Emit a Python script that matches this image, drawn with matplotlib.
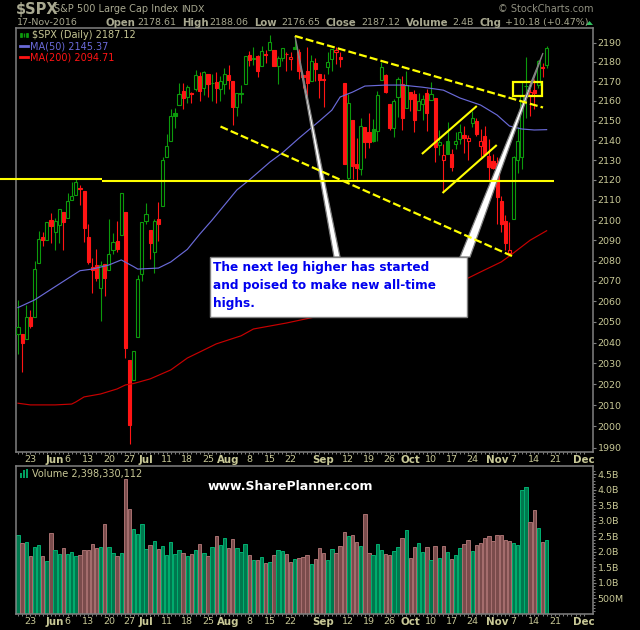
# -*- coding: utf-8 -*-
# SPX daily candles with MAs and volume, plus the hand drawn chart notes
import matplotlib
matplotlib.use('Agg')
import matplotlib.pyplot as plt
from matplotlib.patches import Polygon, Rectangle
from matplotlib.ticker import FixedLocator, NullFormatter, NullLocator
import numpy as np
import pandas as pd

# Trading days shown, May 18 to Nov 17 2016
holidays = ['2016-05-30', '2016-07-04', '2016-09-05', '2016-11-24']
axis_days = pd.bdate_range('2016-05-18', '2016-12-01').difference(pd.to_datetime(holidays))

opens = [2044.38, 2044.21, 2041.88, 2052.23, 2052.6, 2078.93, 2091.44, 2090.06, 2100.13,
         2093.94, 2097.71, 2104.07, 2100.83, 2110.18, 2112.71, 2115.65, 2114.5, 2091.75, 2076.65, 2077.6,
         2066.36, 2078.2, 2075.58, 2085.19, 2089.75, 2092.8, 2103.81, 2031.45, 2022.03, 2042.69, 2073.17,
         2099.34, 2095.05, 2084.43, 2100.42, 2106.97, 2131.72, 2139.5, 2153.81, 2157.88, 2165.13,
         2162.04, 2163.79, 2166.1, 2172.91, 2166.47, 2173.71, 2168.97, 2169.81, 2166.05, 2168.83,
         2173.15, 2169.94, 2156.81, 2163.51, 2168.79, 2183.76, 2182.24, 2182.81, 2177.97, 2183.74, 2186.08,
         2186.24, 2177.84, 2181.9, 2184.24, 2181.58, 2187.81, 2185.09, 2173.29, 2175.1, 2170.19, 2179.45, 2173.57,
         2171.33, 2177.49, 2181.61, 2185.17, 2182.76, 2169.08, 2120.86, 2150.47, 2127.86, 2125.36, 2146.48,
         2143.99, 2145.94, 2144.58, 2170.94, 2173.29, 2158.54, 2146.04, 2161.85, 2168.9, 2156.51,
         2164.33, 2163.37, 2155.15, 2158.22, 2164.19, 2160.39, 2161.35, 2137.67, 2130.26, 2139.68,
         2132.95, 2138.31, 2140.81, 2142.51, 2139.43, 2148.5, 2149.72, 2136.97, 2142.2, 2132.23, 2129.78,
         2128.68, 2109.43, 2099.4, 2083.79, 2100.59, 2129.92, 2131.56, 2167.49, 2162.71, 2165.64, 2168.29, 2177.53, 2178.61]
highs = [2060.61, 2044.21, 2058.35, 2055.91, 2079.67, 2094.73, 2094.3, 2099.06, 2103.48,
         2100.97, 2105.26, 2104.07, 2113.36, 2119.22, 2120.55, 2117.64, 2114.5, 2098.12, 2081.3, 2085.65,
         2079.62, 2078.2, 2100.66, 2093.66, 2099.71, 2113.32, 2103.81, 2031.45, 2036.09, 2073.13, 2098.94,
         2108.71, 2095.05, 2100.72, 2109.08, 2131.71, 2143.16, 2155.79, 2156.45, 2168.99, 2169.05,
         2168.35, 2164.63, 2175.63, 2174.56, 2175.11, 2173.71, 2173.54, 2174.98, 2172.85, 2177.09,
         2178.29, 2170.2, 2163.79, 2168.19, 2182.87, 2185.44, 2187.66, 2183.41, 2188.45, 2186.28, 2193.81,
         2186.24, 2183.08, 2187.03, 2185.0, 2185.15, 2193.42, 2186.66, 2173.29, 2187.94, 2183.48, 2182.27, 2173.57,
         2173.56, 2184.87, 2186.57, 2187.87, 2184.94, 2169.08, 2163.3, 2150.47, 2141.33, 2151.31, 2146.48,
         2153.61, 2150.8, 2165.11, 2179.99, 2173.75, 2158.54, 2161.13, 2172.4, 2172.67, 2175.3,
         2164.33, 2165.46, 2163.95, 2162.93, 2165.86, 2169.6, 2161.56, 2145.36, 2138.19, 2149.19,
         2135.7, 2144.38, 2148.44, 2147.18, 2142.63, 2154.79, 2151.44, 2145.73, 2147.13, 2140.72, 2133.25,
         2131.45, 2111.76, 2102.56, 2099.07, 2132.0, 2146.87, 2170.1, 2182.3, 2165.92, 2171.36, 2180.84, 2179.22, 2188.06]
lows = [2034.49, 2025.91, 2041.88, 2047.03, 2052.6, 2078.93, 2087.08, 2090.06, 2088.66,
        2085.1, 2088.59, 2085.36, 2100.83, 2110.18, 2112.71, 2107.73, 2089.2, 2078.46, 2064.1, 2069.8,
        2050.37, 2062.84, 2075.58, 2083.02, 2084.36, 2092.8, 2032.57, 1991.68, 2022.03, 2042.69, 2070.0,
        2097.9, 2080.86, 2074.02, 2089.39, 2106.97, 2131.72, 2139.5, 2146.21, 2157.88, 2155.79,
        2159.07, 2159.01, 2164.89, 2159.75, 2163.24, 2161.95, 2160.18, 2159.07, 2159.74, 2163.49,
        2166.21, 2147.58, 2152.14, 2159.07, 2168.79, 2177.85, 2178.61, 2172.0, 2177.97, 2179.42, 2186.08,
        2178.14, 2168.5, 2180.46, 2175.13, 2175.96, 2186.8, 2171.25, 2166.45, 2160.39, 2170.19, 2170.41, 2161.35,
        2157.09, 2173.59, 2175.1, 2179.07, 2177.49, 2127.81, 2119.12, 2120.27, 2119.9, 2122.36, 2131.2,
        2135.91, 2139.17, 2139.57, 2170.94, 2163.97, 2145.04, 2141.55, 2151.79, 2145.2, 2156.51,
        2154.77, 2144.01, 2155.15, 2150.28, 2144.85, 2160.39, 2128.84, 2132.77, 2114.72, 2132.98,
        2124.43, 2135.49, 2138.15, 2133.44, 2130.09, 2146.91, 2141.93, 2131.59, 2132.52, 2119.36, 2125.53,
        2097.85, 2094.0, 2085.23, 2083.79, 2100.59, 2123.56, 2125.35, 2151.17, 2152.49, 2156.08, 2166.38, 2172.2, 2176.65]
closes = [2047.63, 2040.04, 2052.32, 2048.04, 2076.06, 2090.54, 2090.1, 2099.06, 2096.96,
          2099.33, 2105.26, 2099.13, 2109.41, 2112.13, 2119.12, 2115.48, 2096.07, 2079.06, 2075.32, 2071.5,
          2077.99, 2071.22, 2083.25, 2088.9, 2085.45, 2113.32, 2037.41, 2000.54, 2036.09, 2070.77, 2098.86,
          2102.95, 2088.55, 2099.73, 2097.9, 2129.9, 2137.16, 2152.14, 2152.43, 2163.75, 2161.74,
          2166.89, 2163.78, 2173.02, 2165.17, 2175.03, 2168.48, 2169.18, 2166.58, 2170.06, 2173.6,
          2170.84, 2157.03, 2163.79, 2164.25, 2182.87, 2180.89, 2181.74, 2175.49, 2185.79, 2184.05, 2190.15,
          2178.15, 2182.22, 2187.02, 2183.87, 2182.64, 2186.9, 2175.44, 2172.47, 2169.04, 2180.38, 2176.12, 2170.95,
          2170.86, 2179.98, 2186.48, 2186.16, 2181.3, 2127.81, 2159.04, 2127.02, 2125.77, 2147.26, 2139.16,
          2139.12, 2139.76, 2163.12, 2177.18, 2164.69, 2146.1, 2159.93, 2171.37, 2151.13, 2168.27,
          2161.2, 2150.49, 2159.73, 2160.77, 2153.74, 2163.66, 2136.73, 2139.18, 2132.55, 2132.98,
          2126.5, 2139.6, 2144.29, 2141.34, 2141.16, 2151.33, 2143.16, 2139.43, 2133.04, 2126.41, 2126.15,
          2111.72, 2097.94, 2088.66, 2085.18, 2131.52, 2139.56, 2163.26, 2167.48, 2164.45, 2164.2, 2180.39, 2176.94, 2187.12]
prev_close = 2047.21

# Volume in billions
volumes = [2.54, 2.28, 2.31, 1.86, 2.15, 2.21, 1.86, 1.70, 2.60,
           2.05, 1.92, 2.12, 1.92, 1.99, 1.86, 1.89, 2.05, 2.05, 2.25, 2.12,
           2.15, 2.89, 2.15, 1.96, 1.86, 1.96, 4.34, 3.38, 2.73, 2.57, 2.89,
           2.09, 2.21, 2.34, 2.09, 2.18, 1.89, 2.31, 1.92, 2.05, 1.96,
           1.86, 1.92, 2.05, 2.25, 1.96, 1.86, 2.15, 2.51, 2.21, 2.44,
           2.12, 2.41, 2.12, 1.99, 2.25, 1.89, 1.73, 1.73, 1.83, 1.63, 1.67,
           1.89, 2.05, 2.02, 1.92, 1.67, 1.76, 1.80, 1.83, 1.89, 1.60, 1.76, 2.12,
           1.96, 1.73, 2.09, 1.96, 2.18, 2.63, 2.51, 2.54, 2.31, 2.18, 3.22,
           1.96, 1.89, 2.25, 2.05, 1.92, 1.89, 2.02, 2.15, 2.44, 2.70,
           1.80, 2.15, 2.28, 1.99, 2.15, 1.73, 2.18, 1.80, 2.18, 1.99,
           1.76, 1.89, 2.12, 2.25, 2.38, 2.02, 2.21, 2.28, 2.44, 2.51, 2.34,
           2.54, 2.54, 2.38, 2.34, 2.28, 2.21, 3.99, 4.09, 2.96, 3.34, 2.76, 2.31, 2.398]

# Moving averages at a few days
ma50_days = [0, 4, 10, 15, 18, 22, 25, 28, 29, 34, 37, 41, 44, 47, 53, 56, 61, 64, 68, 73, 76, 78, 81,
             84, 89, 93, 98, 103, 107, 112, 116, 119, 122, 125, 128]
ma50_vals = [2057, 2060.7, 2068.5, 2075, 2075.8, 2077.8, 2080.3, 2077, 2075.8, 2076.3, 2079.3, 2085.5, 2093,
             2100, 2115, 2120, 2129, 2133.6, 2141, 2149.8, 2155.3, 2162, 2164.5, 2167.6, 2168.1, 2168.1, 2167,
             2165.5, 2161.5, 2157.9, 2152.8, 2147.2, 2145.7, 2145.2, 2145.37]
ma200_days = [0, 3, 9, 13, 14, 16, 20, 24, 26, 28, 32, 37, 41, 44, 48, 54, 57, 65, 73, 91, 109, 112, 117, 119, 124, 128]
ma200_vals = [2011, 2010.2, 2010.2, 2010.6, 2011.6, 2014, 2015.4, 2017.8, 2019.7, 2020.4, 2022.6, 2026.9, 2032.6,
              2035.5, 2039.4, 2043.3, 2046.6, 2049.5, 2052.9, 2062, 2071.4, 2074.4, 2079.3, 2082.2, 2090, 2094.71]

price_ticks = list(range(1990, 2200, 10))
vol_ticks = [0.5, 1.0, 1.5, 2.0, 2.5, 3.0, 3.5, 4.0, 4.5]
vol_tick_labels = ['500M', '1.0B', '1.5B', '2.0B', '2.5B', '3.0B', '3.5B', '4.0B', '4.5B']

date_tick_days = ['2016-05-23', '2016-06-01', '2016-06-06', '2016-06-13', '2016-06-20', '2016-06-27', '2016-07-01',
                  '2016-07-11', '2016-07-18', '2016-07-25', '2016-08-01', '2016-08-08', '2016-08-15', '2016-08-22',
                  '2016-09-01', '2016-09-12', '2016-09-19', '2016-09-26', '2016-10-03', '2016-10-10', '2016-10-17',
                  '2016-10-24', '2016-11-01', '2016-11-07', '2016-11-14', '2016-11-21', '2016-12-01']
date_tick_labels = ['23', 'Jun', '6', '13', '20', '27', 'Jul', '11', '18', '25', 'Aug', '8', '15', '22',
                    'Sep', '12', '19', '26', 'Oct', '10', '17', '24', 'Nov', '7', '14', '21', 'Dec']

BG = 'black'
FRAME = '#808080'
TAN = '#c8c896'
HEAD = '#a8a890'
GREEN = '#0c9a0c'
RED = '#ff1414'
YELLOW = '#ffff00'
W, H = 640, 630


def pixel_axes(left, top, right, bottom):
    return fig.add_axes([left / W, 1 - bottom / H, (right - left) / W, (bottom - top) / H], facecolor=BG)


def style_axes(ax):
    for s in ax.spines.values():
        s.set_color(FRAME)
        s.set_linewidth(1.1)
    ax.set_xlim(-0.41, 139.3)
    ax.set_xticks(date_ticks)
    ax.set_xticklabels(date_tick_labels)
    ax.set_xticks(range(len(axis_days)), minor=True)
    ax.tick_params(axis='x', which='major', colors=FRAME, length=1.5, width=0.8, pad=0.5)
    ax.tick_params(axis='x', which='minor', colors=FRAME, length=1.2, width=0.7)
    ax.tick_params(axis='y', which='major', left=False, right=True, labelleft=False, labelright=True,
                   colors=FRAME, length=2.5, width=0.8, pad=0.5)
    for lab in ax.get_xticklabels() + ax.get_yticklabels():
        lab.set_color(TAN)
        lab.set_fontsize(6.8)
    for lab in ax.get_xticklabels():
        if lab.get_text().isalpha():
            lab.set_fontweight('bold')
            lab.set_fontsize(7.4)


fig = plt.figure(figsize=(W / 100, H / 100), dpi=100, facecolor=BG)
date_ticks = [axis_days.get_loc(pd.Timestamp(d)) for d in date_tick_days]
days = np.arange(len(closes))
before = [prev_close] + closes[:-1]
up = [c >= p for c, p in zip(closes, before)]

# Price panel
ax = pixel_axes(16.3, 28.3, 593.3, 452.3)
ax.set_yscale('log')
colors = [GREEN if u else RED for u in up]
ax.vlines(days, lows, highs, colors=colors, linewidth=0.8, zorder=2)
bottoms = [min(o, c) for o, c in zip(opens, closes)]
heights = [max(abs(c - o), 0.4) for o, c in zip(opens, closes)]
faces = [BG if c > o else col for o, c, col in zip(opens, closes, colors)]
ax.bar(days, heights, bottom=bottoms, width=0.76, color=faces, edgecolor=colors, linewidth=0.8, zorder=3)
ax.plot(ma50_days, ma50_vals, color='#6a6ad8', lw=0.85, zorder=4)
ax.plot(ma200_days, ma200_vals, color='#c80000', lw=0.85, zorder=4)
ax.set_ylim(1987.8, 2197.4)
ax.yaxis.set_major_locator(FixedLocator(price_ticks))
ax.yaxis.set_major_formatter(plt.FixedFormatter([str(p) for p in price_ticks]))
ax.yaxis.set_minor_locator(NullLocator())
ax.yaxis.set_minor_formatter(NullFormatter())
style_axes(ax)

# Volume panel
vax = pixel_axes(16.3, 466.3, 593.3, 614)
vax.bar(days, volumes, width=0.82, color=['#00784e' if u else '#7a4c4c' for u in up],
        edgecolor=['#00b070' if u else '#a87070' for u in up], linewidth=0.7)
vax.set_ylim(0, 4.76)
vax.set_yticks(vol_ticks)
vax.set_yticklabels(vol_tick_labels)
vax.set_yticks(np.arange(0.1, 4.7, 0.1), minor=True)
vax.tick_params(axis='y', which='minor', left=False, right=True, colors=FRAME, length=1.2, width=0.7)
style_axes(vax)

# Everything hand placed goes on one overlay measured in picture pixels
ov = fig.add_axes([0, 0, 1, 1], zorder=10)
ov.set_xlim(0, W)
ov.set_ylim(H, 0)
ov.axis('off')
ov.patch.set_alpha(0)

# Trend lines and the breakout box
ov.plot([295, 543], [36, 107.5], color=YELLOW, lw=1.6, dashes=(3.6, 1.4), dash_capstyle='butt')
ov.plot([220.5, 512], [126.5, 256], color=YELLOW, lw=1.6, dashes=(3.6, 1.4), dash_capstyle='butt')
ov.plot([0, 102], [179, 179], color=YELLOW, lw=1.5, solid_capstyle='butt')
ov.plot([102, 554], [180.5, 180.5], color=YELLOW, lw=1.5, solid_capstyle='butt')
ov.plot([422.7, 476], [153.3, 106.7], color=YELLOW, lw=1.5)
ov.plot([443.3, 496], [192.3, 145.7], color=YELLOW, lw=1.5)
ov.add_patch(Rectangle((512.7, 82), 29.3, 14, fill=False, edgecolor=YELLOW, lw=1.6))

# Callout with its two pointers
ov.add_patch(Polygon([(295, 36), (334, 257), (340, 257)], facecolor='white', edgecolor='#808080', lw=0.9))
ov.add_patch(Polygon([(543, 53), (460, 257), (470, 257)], facecolor='white', edgecolor='#808080', lw=0.9))
ov.add_patch(Rectangle((209.5, 256.5), 257, 60, facecolor='white', edgecolor='#808080', lw=1))
for y, line in zip([267.5, 285.5, 303.5],
                   ['The next leg higher has started', 'and poised to make new all-time', 'highs.']):
    ov.text(213, y, line, color='#0000ee', fontsize=8.7, fontweight='bold', va='center', ha='left')

ov.text(208, 486, 'www.SharePlanner.com', color='white', fontsize=9, fontweight='bold', va='center')

# Header
ov.text(16, 9.5, '$SPX', color=HEAD, fontsize=10.5, fontweight='bold', va='center')
ov.text(54, 9.5, 'S&P 500 Large Cap Index', color=HEAD, fontsize=7, va='center')
ov.text(181, 9.5, 'INDX', color=HEAD, fontsize=6.8, va='center')
ov.text(594, 9.5, '\u00a9 StockCharts.com', color='#909080', fontsize=7, va='center', ha='right')
row2 = [(17, '17-Nov-2016', False), (105, 'Open', True), (137, '2178.61', False), (182, 'High', True),
        (209, '2188.06', False), (254, 'Low', True), (281, '2176.65', False), (326, 'Close', True),
        (361, '2187.12', False), (406, 'Volume', True), (452, '2.4B', False), (480, 'Chg', True),
        (505, '+10.18 (+0.47%)', False)]
for x, s, bold in row2:
    ov.text(x, 22.5, s, color=HEAD, fontsize=7.3 if bold else 6.8, fontweight='bold' if bold else 'normal',
            va='center')
ov.add_patch(Polygon([(586, 25), (593, 25), (589.5, 21)], facecolor='#30c060', edgecolor='none'))

# Panel legends
ov.vlines([21, 24, 27], [33, 33, 33], [37, 37, 37], color=GREEN, lw=1)
ov.add_patch(Rectangle((20, 32.5), 2, 4, facecolor=GREEN, edgecolor=GREEN, lw=0.5))
ov.add_patch(Rectangle((25.5, 33), 2, 3.5, facecolor=GREEN, edgecolor=GREEN, lw=0.5))
ov.text(32, 35.5, '$SPX (Daily) 2187.12', color=TAN, fontsize=7, va='center')
ov.plot([20, 28], [46, 46], color='#6a6ad8', lw=2)
ov.text(29.5, 46.5, 'MA(50) 2145.37', color='#6a6ad8', fontsize=7, va='center')
ov.plot([20, 28], [57, 57], color=RED, lw=2)
ov.text(29.5, 57.5, 'MA(200) 2094.71', color=RED, fontsize=7, va='center')
ov.add_patch(Rectangle((20, 473), 2, 4.5, facecolor='#00a060'))
ov.add_patch(Rectangle((23, 470), 2, 7.5, facecolor='#00a060'))
ov.add_patch(Rectangle((26, 468.5), 2, 9, facecolor='#00a060'))
ov.text(32, 473.5, 'Volume 2,398,330,112', color=TAN, fontsize=7, va='center')

fig.savefig('out.png', dpi=100, facecolor=BG)
